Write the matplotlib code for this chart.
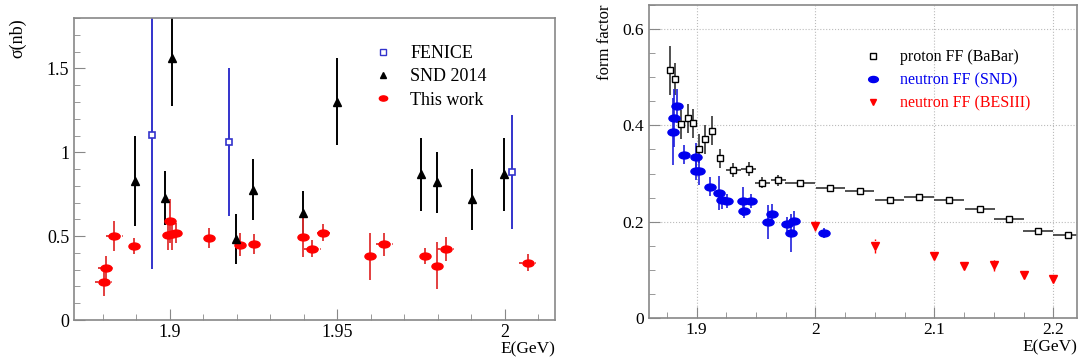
import numpy as np
import matplotlib
matplotlib.use("Agg")
import matplotlib.pyplot as plt
from matplotlib.path import Path
from matplotlib.transforms import Affine2D
from matplotlib.ticker import MultipleLocator, FixedLocator
from matplotlib.lines import Line2D

plt.rcParams["font.family"] = ["Liberation Serif", "DejaVu Serif"]

# ---- left panel: cross section ----
this_e = [1.8804, 1.8810, 1.8835, 1.8893, 1.9000, 1.8995, 1.9008, 1.9018, 1.9117, 1.9210,
          1.9252, 1.9397, 1.9426, 1.9459, 1.9598, 1.9641, 1.9761, 1.9799, 1.9824, 2.0068]
this_s = [0.226, 0.313, 0.501, 0.441, 0.589, 0.505, 0.510, 0.519, 0.489, 0.449,
          0.453, 0.497, 0.425, 0.521, 0.381, 0.451, 0.381, 0.323, 0.423, 0.341]
this_err = [0.085, 0.07, 0.09, 0.05, 0.13, 0.09, 0.09, 0.06, 0.06, 0.07,
            0.06, 0.12, 0.05, 0.05, 0.14, 0.07, 0.05, 0.14, 0.07, 0.05]
this_xerr = [0.0025, 0.0025, 0.0025, 0, 0.0015, 0, 0, 0.0015, 0, 0.0015,
             0, 0, 0.0025, 0.002, 0, 0.0025, 0, 0, 0.0025, 0.0025]

snd_e = [1.8896, 1.8986, 1.9008, 1.9199, 1.9249, 1.9399, 1.9499, 1.9749, 1.9799, 1.9901, 1.9999]
snd_s = [0.828, 0.729, 1.563, 0.483, 0.778, 0.639, 1.301, 0.868, 0.820, 0.719, 0.868]
snd_err = [0.27, 0.16, 0.29, 0.15, 0.18, 0.13, 0.26, 0.22, 0.18, 0.18, 0.22]

fen_e = [1.8948, 1.9178, 2.0021]
fen_s = [1.102, 1.062, 0.882]
fen_err = [0.80, 0.44, 0.34]

# ---- right panel: form factors ----
babar_e = [1.8776, 1.8820, 1.8869, 1.8924, 1.8972, 1.9023, 1.9073, 1.9127, 1.9197, 1.9309,
           1.9438, 1.9554, 1.9686, 1.9871, 2.0126, 2.0371, 2.0623, 2.0870, 2.1123, 2.1382,
           2.1628, 2.1873, 2.2126]
babar_ff = [0.514, 0.496, 0.402, 0.415, 0.404, 0.352, 0.371, 0.389, 0.332, 0.307,
            0.309, 0.281, 0.286, 0.280, 0.270, 0.264, 0.245, 0.251, 0.245, 0.226,
            0.205, 0.181, 0.172]
babar_err = [0.05, 0.033, 0.03, 0.03, 0.03, 0.03, 0.03, 0.03, 0.02, 0.015,
             0.015, 0.012, 0.012, 0.006, 0.006, 0.005, 0.005, 0.005, 0.005, 0.005,
             0.005, 0.004, 0.004]
babar_xerr = [0, 0, 0, 0, 0, 0, 0, 0, 0, 0.0063,
              0.0063, 0.0063, 0.0063, 0.0125, 0.0125, 0.0125, 0.0125, 0.0125, 0.0125, 0.0125,
              0.0125, 0.0125, 0.0125]

nsnd_e = [1.8804, 1.8810, 1.8837, 1.8894, 1.8992, 1.8995, 1.9017, 1.9115, 1.9191, 1.9214,
          1.9256, 1.9393, 1.9399, 1.9458, 1.9598, 1.9632, 1.9758, 1.9798, 1.9823, 2.0070]
nsnd_ff = [0.387, 0.416, 0.440, 0.339, 0.334, 0.306, 0.306, 0.273, 0.260, 0.246,
           0.243, 0.242, 0.223, 0.243, 0.200, 0.216, 0.195, 0.177, 0.202, 0.176]
nsnd_err = [0.07, 0.06, 0.035, 0.02, 0.03, 0.02, 0.03, 0.02, 0.035, 0.02,
            0.015, 0.03, 0.015, 0.015, 0.035, 0.02, 0.015, 0.04, 0.02, 0.01]

bes_e = [2.0, 2.05, 2.1, 2.125, 2.15, 2.175, 2.2]
bes_ff = [0.191, 0.150, 0.129, 0.109, 0.110, 0.089, 0.082]
bes_err = [0.01, 0.015, 0.004, 0.004, 0.012, 0.004, 0.004]

# flat ellipse marker like ROOT's
ell = Path.unit_circle().transformed(Affine2D().scale(1.6, 1.0))

fig = plt.figure(figsize=(10.81, 3.62), dpi=100)
ax1 = fig.add_axes([0.0685, 0.116, 0.4449, 0.834])
ax2 = fig.add_axes([0.6004, 0.1215, 0.3959, 0.8647])

frame = "#888888"
blue_l = "#3333cc"
blue_r = "#0000ee"

# left
ax1.errorbar(fen_e, fen_s, yerr=fen_err, fmt="s", ms=5, mfc="white", mec=blue_l,
             mew=1.2, ecolor=blue_l, elinewidth=1.4, capsize=0)
ax1.errorbar(snd_e, snd_s, yerr=snd_err, fmt="^", ms=6, color="black",
             ecolor="black", elinewidth=1.4, capsize=0)
eb = ax1.errorbar(this_e, this_s, yerr=this_err, xerr=this_xerr, fmt="none",
                  ecolor="#e03030", elinewidth=1.3, capsize=0)
eb[2][0].set_linestyle((0, (2, 1)))
ax1.plot(this_e, this_s, ls="none", marker=ell, ms=8, color="red")

h1 = [Line2D([], [], ls="none", marker="s", ms=4, mfc="white", mec=blue_l, mew=1.0),
      Line2D([], [], ls="none", marker="^", ms=5, color="black"),
      Line2D([], [], ls="none", marker=ell, ms=6, color="red")]
ax1.legend(h1, ["FENICE", "SND 2014", "This work"], loc="upper left",
           bbox_to_anchor=(0.59, 0.965), frameon=False, fontsize=13,
           handlelength=1.0, handletextpad=1.0, labelspacing=0.35)

ax1.set_xlim(1.8715, 2.015)
ax1.set_ylim(0, 1.8)
ax1.xaxis.set_major_locator(FixedLocator([1.9, 1.95, 2.0]))
ax1.set_xticklabels(["1.9", "1.95", "2"])
ax1.xaxis.set_minor_locator(MultipleLocator(0.01))
ax1.yaxis.set_major_locator(FixedLocator([0, 0.5, 1, 1.5]))
ax1.set_yticklabels(["0", "0.5", "1", "1.5"])
ax1.yaxis.set_minor_locator(MultipleLocator(0.1))
ax1.tick_params(which="both", direction="in", labelsize=13, color=frame)
ax1.tick_params(which="major", length=8)
ax1.tick_params(which="minor", length=4)
ax1.tick_params(axis="x", pad=3)
ax1.set_ylabel("σ(nb)", fontsize=13)
ax1.yaxis.set_label_coords(-0.10, 1.0)
ax1.yaxis.label.set_ha("right")
ax1.set_xlabel("E(GeV)", fontsize=12.5)
ax1.xaxis.set_label_coords(1.0, -0.07)
ax1.xaxis.label.set_ha("right")

# right
ax2.grid(True, which="major", ls=":", color="#bbbbbb", lw=0.8)
ax2.set_axisbelow(True)
ax2.errorbar(babar_e, babar_ff, yerr=babar_err, xerr=babar_xerr, fmt="s", ms=5,
             mfc="white", mec="black", mew=1.0, ecolor="#333333", elinewidth=1.2,
             capsize=0)
ax2.errorbar(nsnd_e, nsnd_ff, yerr=nsnd_err, fmt="none", ecolor="#2020dd",
             elinewidth=1.2, capsize=0)
ax2.plot(nsnd_e, nsnd_ff, ls="none", marker=ell, ms=8, color=blue_r)
eb2 = ax2.errorbar(bes_e, bes_ff, yerr=bes_err, fmt="none", ecolor="red",
                   elinewidth=1.0, capsize=0)
eb2[2][0].set_linestyle((0, (2, 1)))
ax2.plot(bes_e, bes_ff, ls="none", marker="v", ms=6, color="red")

h2 = [Line2D([], [], ls="none", marker="s", ms=5, mfc="white", mec="black", mew=1.0),
      Line2D([], [], ls="none", marker=ell, ms=7, color=blue_r),
      Line2D([], [], ls="none", marker="v", ms=5, color="red")]
leg = ax2.legend(h2, ["proton FF (BaBar)", "neutron FF (SND)", "neutron FF (BESIII)"],
                 loc="upper left", bbox_to_anchor=(0.47, 0.905), frameon=False,
                 fontsize=11.5, handlelength=1.0, handletextpad=1.2, labelspacing=0.45)
for txt, c in zip(leg.get_texts(), ["black", blue_r, "red"]):
    txt.set_color(c)

ax2.set_xlim(1.86, 2.22)
ax2.set_ylim(0, 0.65)
ax2.xaxis.set_major_locator(FixedLocator([1.9, 2.0, 2.1, 2.2]))
ax2.set_xticklabels(["1.9", "2", "2.1", "2.2"])
ax2.xaxis.set_minor_locator(MultipleLocator(0.025))
ax2.yaxis.set_major_locator(FixedLocator([0, 0.2, 0.4, 0.6]))
ax2.set_yticklabels(["0", "0.2", "0.4", "0.6"])
ax2.yaxis.set_minor_locator(MultipleLocator(0.05))
ax2.tick_params(which="both", direction="in", labelsize=12.5, color=frame)
ax2.tick_params(which="major", length=8)
ax2.tick_params(which="minor", length=4)
ax2.tick_params(axis="x", pad=3)
ax2.set_ylabel("form factor", fontsize=12)
ax2.yaxis.set_label_coords(-0.085, 1.0)
ax2.yaxis.label.set_ha("right")
ax2.set_xlabel("E(GeV)", fontsize=12.5)
ax2.xaxis.set_label_coords(1.0, -0.068)
ax2.xaxis.label.set_ha("right")

for ax in (ax1, ax2):
    for sp in ax.spines.values():
        sp.set_color(frame)
        sp.set_linewidth(1.2)

fig.savefig("out.png", dpi=100)
